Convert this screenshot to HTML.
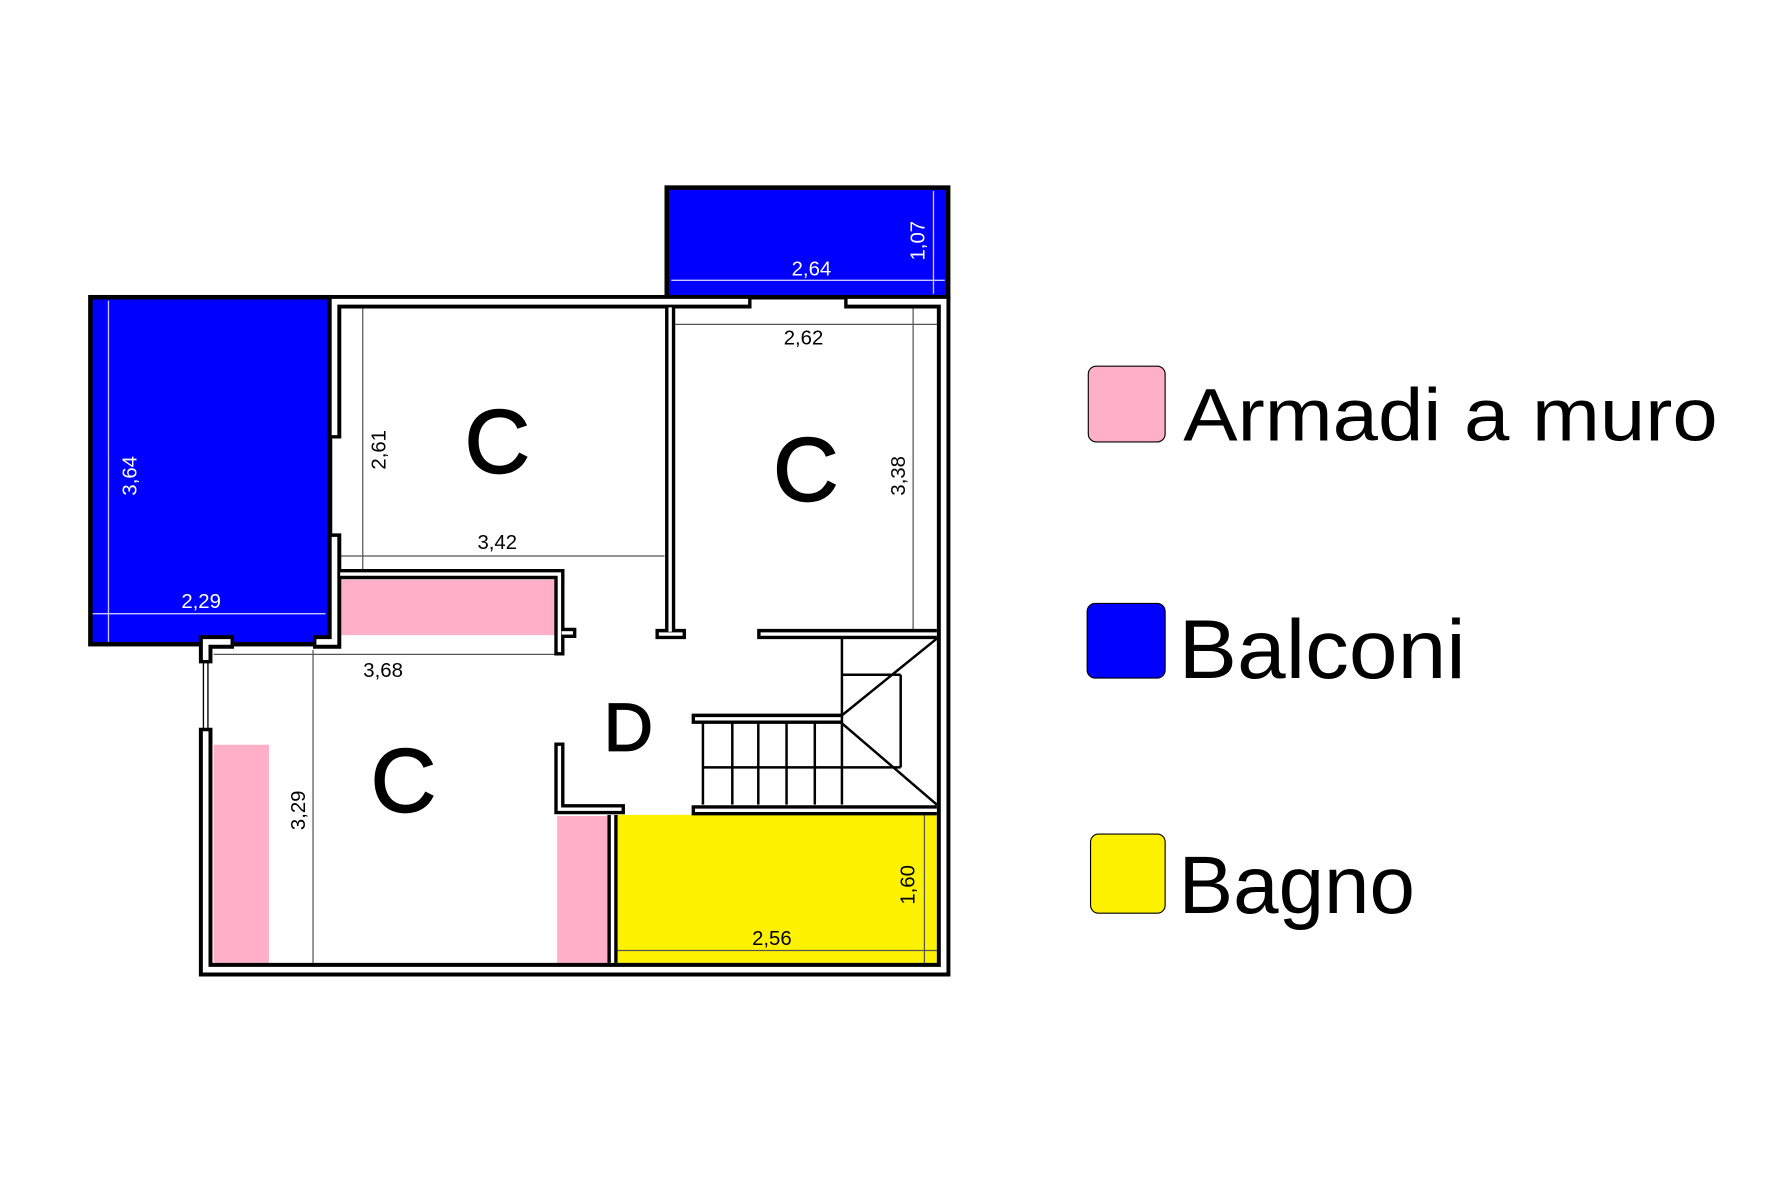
<!DOCTYPE html>
<html><head><meta charset="utf-8"><style>
html,body{margin:0;padding:0;background:#fff;}
svg{display:block;}
text{font-family:"Liberation Sans",Arial,sans-serif;}
</style></head><body>
<svg width="1772" height="1181" viewBox="0 0 1568 1045" preserveAspectRatio="none" xmlns="http://www.w3.org/2000/svg">
<rect width="1568" height="1045" fill="#fff"/>
<!-- balconies -->
<rect x="590" y="166" width="249" height="97" fill="#0000ff" stroke="#000" stroke-width="4"/>
<rect x="80" y="263" width="212" height="307" fill="#0000ff" stroke="#000" stroke-width="4"/>
<g stroke="#c8c8ff" stroke-width="1.2" fill="none">
<line x1="594" y1="248" x2="836" y2="248"/><line x1="826" y1="169" x2="826" y2="260"/>
<line x1="96" y1="266" x2="96" y2="568"/><line x1="82" y1="543" x2="288" y2="543"/>
</g>
<g fill="#fff" font-size="18">
<text x="718" y="244" text-anchor="middle">2,64</text>
<text transform="translate(818,213) rotate(-90)" text-anchor="middle">1,07</text>
<text transform="translate(121,421) rotate(-90)" text-anchor="middle">3,64</text>
<text x="178" y="538" text-anchor="middle">2,29</text>
</g>
<!-- fills -->
<rect x="302" y="513" width="189" height="49" fill="#ffafc8"/>
<rect x="189" y="659" width="49" height="193" fill="#ffafc8"/>
<rect x="493" y="722" width="45" height="130" fill="#ffafc8"/>
<rect x="546" y="721" width="283" height="131" fill="#fff200"/>
<!-- dim lines -->
<g stroke="#555" stroke-width="1.1" fill="none">
<line x1="321" y1="272" x2="321" y2="504"/><line x1="301" y1="492" x2="588" y2="492"/>
<line x1="597" y1="287" x2="829" y2="287"/><line x1="808" y1="272" x2="808" y2="557"/>
<line x1="189" y1="579" x2="491" y2="579"/><line x1="277" y1="575" x2="277" y2="852"/>
<line x1="546" y1="841" x2="829" y2="841"/><line x1="818" y1="721" x2="818" y2="852"/>
</g>
<!-- outer walls -->
<g fill="none" stroke-linejoin="miter" stroke-linecap="butt">
<g stroke="#000" stroke-width="12">
<polyline points="296,388 296,267 665,267"/>
<polyline points="747,267 835,267 835,858 182,858 182,644"/>
<polyline points="182,587 182,568 207,568"/>
<polyline points="277,568 296,568 296,472"/>
</g>
<g stroke="#fff" stroke-width="5">
<polyline points="296,385 296,267 662,267"/>
<polyline points="750,267 835,267 835,858 182,858 182,647"/>
<polyline points="182,584 182,568 204,568"/>
<polyline points="280,568 296,568 296,475"/>
</g>
</g>
<!-- window -->
<g stroke="#000" stroke-width="1.2"><line x1="180" y1="586" x2="180" y2="645"/><line x1="184" y1="586" x2="184" y2="645"/></g>
<!-- interior walls -->
<g fill="none" stroke-linecap="butt" stroke-linejoin="miter">
<g stroke="#000" stroke-width="9">
<polyline points="593,272 593,561"/><polyline points="580,561 607,561"/>
<polyline points="301,508 495,508 495,580"/><polyline points="495,560 510,560"/>
<polyline points="495,657 495,716 553,716"/>
<polyline points="542,721 542,852"/>
<polyline points="670,561 829,561"/>
<polyline points="612,636 745,636"/>
<polyline points="612,717 829,717"/>
</g>
<g stroke="#fff" stroke-width="3">
<polyline points="593,272 593,559"/><polyline points="583,561 604,561"/>
<polyline points="301,508 495,508 495,577"/><polyline points="497,560 507,560"/>
<polyline points="495,660 495,716 550,716"/>
<polyline points="542,721 542,852"/>
<polyline points="673,561 829,561"/>
<polyline points="615,636 745,636"/>
<polyline points="615,717 829,717"/>
</g>
</g>
<!-- stairs -->
<g stroke="#000" stroke-width="2.2" fill="none">
<line x1="622" y1="640" x2="622" y2="712"/><line x1="648" y1="640" x2="648" y2="712"/>
<line x1="671" y1="640" x2="671" y2="712"/><line x1="696" y1="640" x2="696" y2="712"/>
<line x1="721" y1="640" x2="721" y2="712"/><line x1="745" y1="565" x2="745" y2="712"/>
<line x1="622" y1="679" x2="797" y2="679"/>
<line x1="745" y1="597" x2="797" y2="597"/><line x1="797" y1="597" x2="797" y2="679"/>
<line x1="745" y1="633" x2="829" y2="565"/><line x1="745" y1="640" x2="829" y2="712"/>
</g>
<!-- dim texts -->
<g fill="#000" font-size="18">
<text transform="translate(341,398) rotate(-90)" text-anchor="middle">2,61</text>
<text x="440" y="486" text-anchor="middle">3,42</text>
<text x="711" y="305" text-anchor="middle">2,62</text>
<text transform="translate(801,421) rotate(-90)" text-anchor="middle">3,38</text>
<text x="339" y="599" text-anchor="middle">3,68</text>
<text transform="translate(270,717) rotate(-90)" text-anchor="middle">3,29</text>
<text x="683" y="836" text-anchor="middle">2,56</text>
<text transform="translate(809,783) rotate(-90)" text-anchor="middle">1,60</text>
</g>
<g fill="#000" font-size="80" text-anchor="middle" stroke="#000" stroke-width="1.5">
<text x="440" y="418">C</text>
<text x="713" y="443">C</text>
<text x="357" y="718">C</text>
<text x="556" y="664" font-size="60">D</text>
</g>
<!-- legend -->
<rect x="963" y="324" width="68" height="67" rx="7" fill="#ffafc8" stroke="#000" stroke-width="1"/>
<rect x="962" y="534" width="69" height="66" rx="7" fill="#0000ff" stroke="#000" stroke-width="1"/>
<rect x="965" y="738" width="66" height="70" rx="7" fill="#fff200" stroke="#000" stroke-width="1"/>
<g fill="#000">
<text x="1047" y="390" font-size="66" textLength="473" lengthAdjust="spacingAndGlyphs">Armadi a muro</text>
<text x="1043" y="600" font-size="74" textLength="254" lengthAdjust="spacingAndGlyphs">Balconi</text>
<text x="1043" y="808" font-size="72" textLength="209" lengthAdjust="spacingAndGlyphs">Bagno</text>
</g>
</svg>
</body></html>
